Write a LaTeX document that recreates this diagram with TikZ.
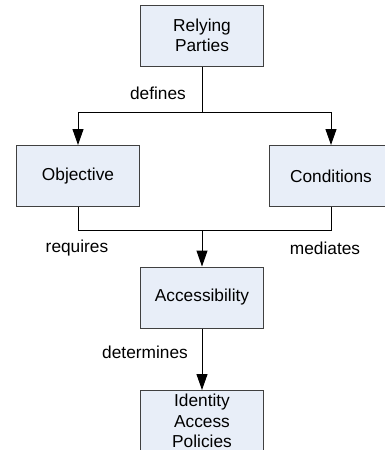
\documentclass[tikz,border=0pt]{standalone}
\usepackage{fontspec}
\setmainfont{Liberation Sans}
\usetikzlibrary{arrows.meta}
\definecolor{boxfill}{RGB}{232,238,248}
\definecolor{boxline}{RGB}{64,64,64}
\begin{document}
\begin{tikzpicture}[x=1pt,y=-1pt,
  box/.style={draw=boxline,fill=boxfill,line width=1pt,minimum width=123pt,minimum height=61pt,inner sep=0pt,align=center,font=\fontsize{17.3}{20.5}\selectfont},
  lbl/.style={font=\fontsize{17.3}{20.5}\selectfont,inner sep=0pt},
  conn/.style={line width=1pt,black},
  arr/.style={conn,-{Triangle[length=16pt,width=11pt]}}]
\useasboundingbox (0,0) rectangle (385,450);
\node[box] (rp) at (202,35.5) {Relying\\Parties};
\node[box] (obj) at (78,176) {Objective};
\node[box] (cond) at (331,176) {Conditions};
\node[box] (acc) at (202,297.5) {Accessibility};
\node[box] (iap) at (202,421) {Identity\\Access\\Policies};
\coordinate (j1) at (202,112);
\coordinate (j2) at (202,230);
\draw[conn] (rp) -- (j1);
\draw[arr] (j1) -| (obj);
\draw[arr] (j1) -| (cond);
\draw[conn] (obj) |- (j2);
\draw[conn] (cond) |- (j2);
\draw[arr] (j2) -- (acc);
\draw[arr] (acc) -- (iap);
\node[lbl] (l1) at (158,93) {defines};
\node[lbl] (l2) at (77,248) {requires};
\node[lbl] (l3) at (325,248) {mediates};
\node[lbl] (l4) at (145,352) {determines};
\end{tikzpicture}
\end{document}
